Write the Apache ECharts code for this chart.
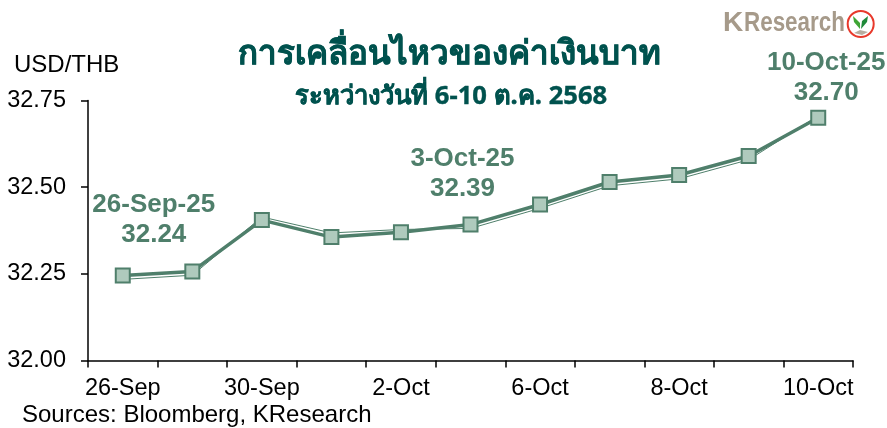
<!DOCTYPE html>
<html><head><meta charset="utf-8">
<style>html,body{margin:0;padding:0;background:#fff}#c{width:887px;height:428px}</style>
<script src="https://cdn.jsdelivr.net/npm/echarts@6/dist/echarts.min.js"></script>
</head><body><div id="c"></div>
<script>
const categories = ['26-Sep','29-Sep','30-Sep','1-Oct','2-Oct','3-Oct','6-Oct','7-Oct','8-Oct','9-Oct','10-Oct'];
const usdThb = [32.245,32.257,32.405,32.356,32.37,32.392,32.45,32.515,32.535,32.59,32.70];
const usdThbThin = [32.234,32.246,32.414,32.368,32.378,32.381,32.439,32.504,32.524,32.579,32.706];
const callouts = {0:{text:'26-Sep-25',value:'32.24',offset:[31,-13]},5:{text:'3-Oct-25',value:'32.39',offset:[-8,-8]},10:{text:'10-Oct-25',value:'32.70',offset:[8,3]}};
const titleText = 'การเคลื่อนไหวของค่าเงินบาท';
const subtitleText = 'ระหว่างวันที่ 6-10 ต.ค. 2568';
const yTitle = 'USD/THB';
const sourceText = 'Sources: Bloomberg, KResearch';
const FONT = '"Liberation Sans", Arial, sans-serif';
const THAI = '"Noto Sans","Liberation Sans",sans-serif';
const GREEN = '#4f7f6b';
const chart = echarts.init(document.getElementById('c'),null,{renderer:'canvas'});
const topData = usdThb.map((v,i)=>{
  const c = callouts[i];
  if(!c) return v;
  return {value:v,label:{show:true,position:'top',offset:c.offset,formatter:c.text+'\n'+c.value,
    fontFamily:FONT,fontWeight:'bold',fontSize:26,lineHeight:30,color:GREEN,align:'center'}};
});
chart.setOption({
  animation:false,backgroundColor:'#fff',
  grid:{left:88,right:34,top:100.5,bottom:67.5,containLabel:false},
  xAxis:{type:'category',data:categories,boundaryGap:true,
    axisLine:{lineStyle:{color:'#000',width:1.5}},
    axisTick:{show:true,interval:0,length:7,inside:false,lineStyle:{color:'#000',width:1.5}},
    axisLabel:{interval:1,color:'#000',fontFamily:FONT,fontSize:23.5,margin:16,hideOverlap:false,showMinLabel:true,showMaxLabel:true},
    splitLine:{show:false}},
  yAxis:{type:'value',min:32,max:32.75,interval:0.25,
    axisLine:{show:true,lineStyle:{color:'#000',width:1.5}},
    axisTick:{show:true,length:7,lineStyle:{color:'#000',width:1.5}},
    axisLabel:{color:'#000',fontFamily:FONT,fontSize:23.5,margin:22,formatter:v=>v.toFixed(2)},
    splitLine:{show:false}},
  series:[
    {type:'line',data:usdThbThin,symbol:'none',silent:true,z:2,
      lineStyle:{color:GREEN,width:1}},
    {type:'line',data:topData,symbol:'rect',symbolSize:14,z:3,
      lineStyle:{color:GREEN,width:3.5},
      itemStyle:{color:'#afcabd',borderColor:GREEN,borderWidth:2}}
  ],
  graphic:[
    {type:'text',left:238,top:38,style:{text:titleText,font:'bold 33px '+THAI,fill:'#00524e',stroke:'#00524e',lineWidth:0.6}},
    {type:'text',left:295,top:84,style:{text:subtitleText,font:'bold 25.6px '+THAI,fill:'#00524e',stroke:'#00524e',lineWidth:0.4}},
    {type:'text',left:14,top:53,style:{text:yTitle,font:'24px '+FONT,fill:'#000'}},
    {type:'text',left:22,top:403,style:{text:sourceText,font:'24px '+FONT,fill:'#000'}},
    {type:'text',x:723,y:9,style:{text:'K',font:'bold 28px '+FONT,fill:'#a69a8a'}},
    {type:'text',x:744,y:9,scaleX:0.8,style:{text:'Research',font:'bold 28px '+FONT,fill:'#a69a8a'}},
    {type:'circle',shape:{cx:860.7,cy:24,r:13},style:{fill:'#fff',stroke:'#e8392b',lineWidth:2}},
    {type:'polygon',shape:{points:[[854,33],[860,30],[868,32],[862,35]]},style:{fill:'#b7ada0'}},
    {type:'polygon',shape:{points:[[860,29],[860,23],[853,16],[854,22]]},style:{fill:'#3fa535'}},
    {type:'polygon',shape:{points:[[861,29],[862,21],[868,16],[867,22]]},style:{fill:'#1f8a3a'}}
  ]
});
</script></body></html>
